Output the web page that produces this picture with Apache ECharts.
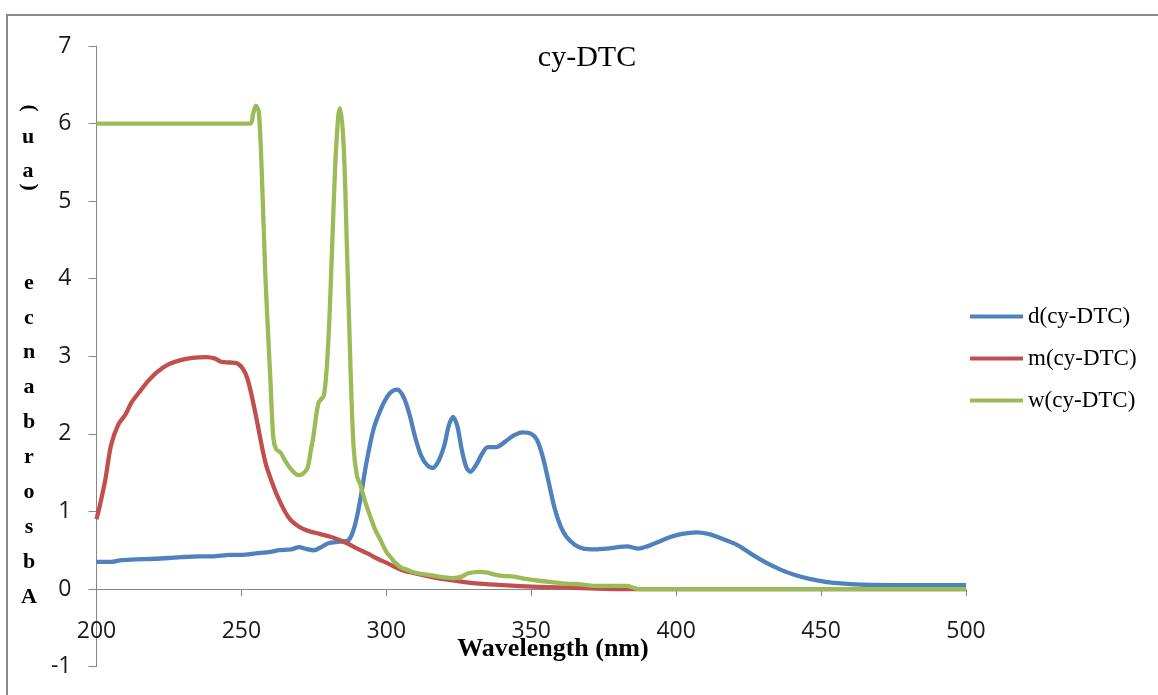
<!DOCTYPE html>
<html>
<head>
<meta charset="utf-8">
<title>cy-DTC</title>
<script src="https://cdn.jsdelivr.net/npm/echarts@6/dist/echarts.min.js"></script>
<style>
  html, body { margin: 0; padding: 0; background: #fff; }
  #chart { width: 1158px; height: 695px; }
</style>
</head>
<body>
<div id="chart"></div>
<script>
// UV-Vis absorbance spectra of cy-DTC in three media
const seriesNames = ['d(cy-DTC)', 'm(cy-DTC)', 'w(cy-DTC)'];
const seriesColors = ['#4F81BD', '#C0504D', '#9BBB59'];

// d(cy-DTC): wavelength (nm) and absorbance (a.u.)
const dWavelength = [200, 205, 208, 212, 220, 225, 229, 235, 240, 246, 250, 255, 260, 263, 267, 270, 272, 275, 278, 280, 284, 287, 289, 291, 293, 295.5, 298, 300.3, 302, 303.8, 306, 308, 310, 312, 314, 316, 318, 320, 321.5, 323, 324.5, 326, 327.5, 329, 331, 333, 335, 338, 341, 344, 347, 350, 352, 354, 356, 358, 360, 362, 365, 368, 372, 376, 380, 383, 387, 390, 394, 398, 402, 407, 411, 415, 421, 426, 431, 436, 441, 446, 452, 458, 465, 475, 500];
const dAbsorbance = [0.35, 0.35, 0.37, 0.38, 0.39, 0.40, 0.41, 0.42, 0.42, 0.44, 0.44, 0.46, 0.48, 0.50, 0.51, 0.54, 0.52, 0.50, 0.55, 0.59, 0.61, 0.63, 0.80, 1.15, 1.60, 2.05, 2.31, 2.48, 2.55, 2.57, 2.47, 2.25, 1.95, 1.72, 1.60, 1.56, 1.65, 1.85, 2.10, 2.22, 2.10, 1.80, 1.58, 1.51, 1.60, 1.74, 1.83, 1.83, 1.90, 1.98, 2.02, 2.00, 1.92, 1.70, 1.38, 1.05, 0.82, 0.68, 0.57, 0.52, 0.51, 0.52, 0.54, 0.55, 0.52, 0.55, 0.61, 0.67, 0.71, 0.73, 0.71, 0.66, 0.57, 0.45, 0.34, 0.25, 0.18, 0.13, 0.09, 0.07, 0.055, 0.05, 0.05];

// m(cy-DTC)
const mWavelength = [200, 201, 203, 205, 207.5, 210, 212, 215, 218, 221, 224.5, 229, 233, 238, 241, 243, 246, 248.5, 250.5, 252, 253.5, 255.5, 257, 258.5, 260.5, 262.5, 265, 267, 270, 273, 277, 281, 284, 287, 290, 293.5, 297, 300.5, 305, 309, 315, 321, 327, 332, 340, 350, 360, 370, 380, 386, 500];
const mAbsorbance = [0.90, 1.05, 1.40, 1.85, 2.12, 2.25, 2.40, 2.55, 2.69, 2.80, 2.89, 2.95, 2.98, 2.99, 2.97, 2.93, 2.92, 2.91, 2.84, 2.72, 2.50, 2.14, 1.85, 1.60, 1.38, 1.19, 1.00, 0.89, 0.80, 0.75, 0.71, 0.67, 0.63, 0.58, 0.52, 0.46, 0.39, 0.33, 0.25, 0.21, 0.16, 0.12, 0.09, 0.07, 0.05, 0.03, 0.02, 0.01, 0.00, 0.00, 0.00];

// w(cy-DTC)
const wWavelength = [200, 253, 254, 255, 256, 257, 258.3, 260, 261, 262, 263.5, 265, 267, 269.5, 271, 272.8, 274, 274.8, 276.6, 278.5, 280, 281.3, 282.4, 283.5, 284.1, 285.3, 286.4, 287.6, 288.7, 289.9, 291, 292.5, 294.5, 296, 298, 300, 301.5, 303, 305, 307, 310, 315, 320, 323, 326, 328, 332, 335, 337, 340, 344, 348, 352, 357, 362, 367, 373, 380, 383, 385, 387, 500];
const wAbsorbance = [6.00, 6.00, 6.12, 6.23, 6.15, 5.40, 4.00, 2.70, 1.95, 1.80, 1.76, 1.66, 1.55, 1.47, 1.48, 1.56, 1.80, 1.96, 2.40, 2.50, 3.20, 4.41, 5.49, 6.13, 6.20, 5.70, 4.41, 2.90, 1.83, 1.45, 1.35, 1.15, 0.93, 0.78, 0.63, 0.48, 0.41, 0.34, 0.28, 0.25, 0.21, 0.18, 0.15, 0.14, 0.16, 0.20, 0.22, 0.21, 0.19, 0.17, 0.16, 0.13, 0.11, 0.09, 0.07, 0.06, 0.04, 0.04, 0.04, 0.02, 0.00, 0.00];

// Axis ranges and tick spacing
const xMin = 200, xMax = 500, xStep = 50;
const yMin = -1, yMax = 7, yStep = 1;

const chartTitle = 'cy-DTC';
const xAxisTitle = 'Wavelength (nm)';
// Vertical y-axis caption, read top to bottom; parentheses are turned on their side
const yCaptionTop = [')', 'u', 'a', '('];
const yCaptionBottom = ['e', 'c', 'n', 'a', 'b', 'r', 'o', 's', 'b', 'A'];

const pairs = (xs, ys) => xs.map((x, i) => [x, ys[i]]);
const seriesData = [
  pairs(dWavelength, dAbsorbance),
  pairs(mWavelength, mAbsorbance),
  pairs(wWavelength, wAbsorbance)
];

const serifBold = { fontFamily: 'Liberation Serif', fontWeight: 'bold', fill: '#000' };
const graphics = [
  { type: 'rect', silent: true, z: -1,
    shape: { x: 7, y: 15, width: 1300, height: 800 },
    style: { fill: 'none', stroke: '#8a8a8a', lineWidth: 2 } },
  { type: 'text', x: 587, y: 58,
    style: { text: chartTitle, fontFamily: 'Liberation Serif', fontSize: 30, fill: '#000',
             textAlign: 'center', textVerticalAlign: 'middle' } },
  { type: 'text', x: 553, y: 649,
    style: Object.assign({ text: xAxisTitle, fontSize: 26, textAlign: 'center', textVerticalAlign: 'middle' }, serifBold) }
];
const topYs = [108, 137, 171, 187];
yCaptionTop.forEach((ch, i) => {
  const sideways = ch === '(' || ch === ')';
  const glyph = { type: 'text', x: 0, y: 0,
    style: Object.assign({ text: ch, fontSize: 22, textAlign: 'center', textVerticalAlign: 'middle' }, serifBold) };
  // each caption glyph sits in its own group so it can be turned a quarter
  graphics.push({ type: 'group', x: 28, y: topYs[i], rotation: sideways ? Math.PI / 2 : 0, children: [glyph] });
});
yCaptionBottom.forEach((ch, i) => {
  graphics.push({ type: 'text', x: 29, y: 283 + i * 34.9,
    style: Object.assign({ text: ch, fontSize: 22, textAlign: 'center', textVerticalAlign: 'middle' }, serifBold) });
});

const chart = echarts.init(document.getElementById('chart'), null, { renderer: 'canvas' });
chart.setOption({
  animation: false,
  backgroundColor: '#ffffff',
  grid: { left: 96.5, right: 192, top: 46, bottom: 28.4, containLabel: false, outerBoundsMode: 'none' },
  legend: {
    orient: 'vertical', left: 970, top: 305, padding: 0,
    icon: 'rect', itemWidth: 53, itemHeight: 4, itemGap: 19,
    data: seriesNames,
    textStyle: { fontFamily: 'Liberation Serif', fontSize: 23, color: '#000' }
  },
  xAxis: {
    type: 'value', min: xMin, max: xMax, interval: xStep,
    axisLine: { onZero: true, lineStyle: { color: '#868686', width: 1 } },
    axisTick: { length: 7, lineStyle: { color: '#868686' } },
    // labels sit just under the zero line, above the bottom of the plot
    axisLabel: { margin: -47, fontFamily: 'Open Sans', fontSize: 23, color: '#1a1a1a' },
    splitLine: { show: false }
  },
  yAxis: {
    type: 'value', min: yMin, max: yMax, interval: yStep,
    axisLine: { show: true, lineStyle: { color: '#868686', width: 1 } },
    axisTick: { show: true, length: 8, lineStyle: { color: '#868686' } },
    axisLabel: { margin: 25, fontFamily: 'Open Sans', fontSize: 23, color: '#1a1a1a' },
    splitLine: { show: false }
  },
  graphic: graphics,
  series: seriesNames.map((name, i) => ({
    name: name,
    type: 'line',
    data: seriesData[i],
    showSymbol: false,
    smooth: 0.3,
    color: seriesColors[i],
    lineStyle: { width: 4.3, color: seriesColors[i] },
    emphasis: { disabled: true },
    z: 2 + i
  }))
});
</script>
</body>
</html>
